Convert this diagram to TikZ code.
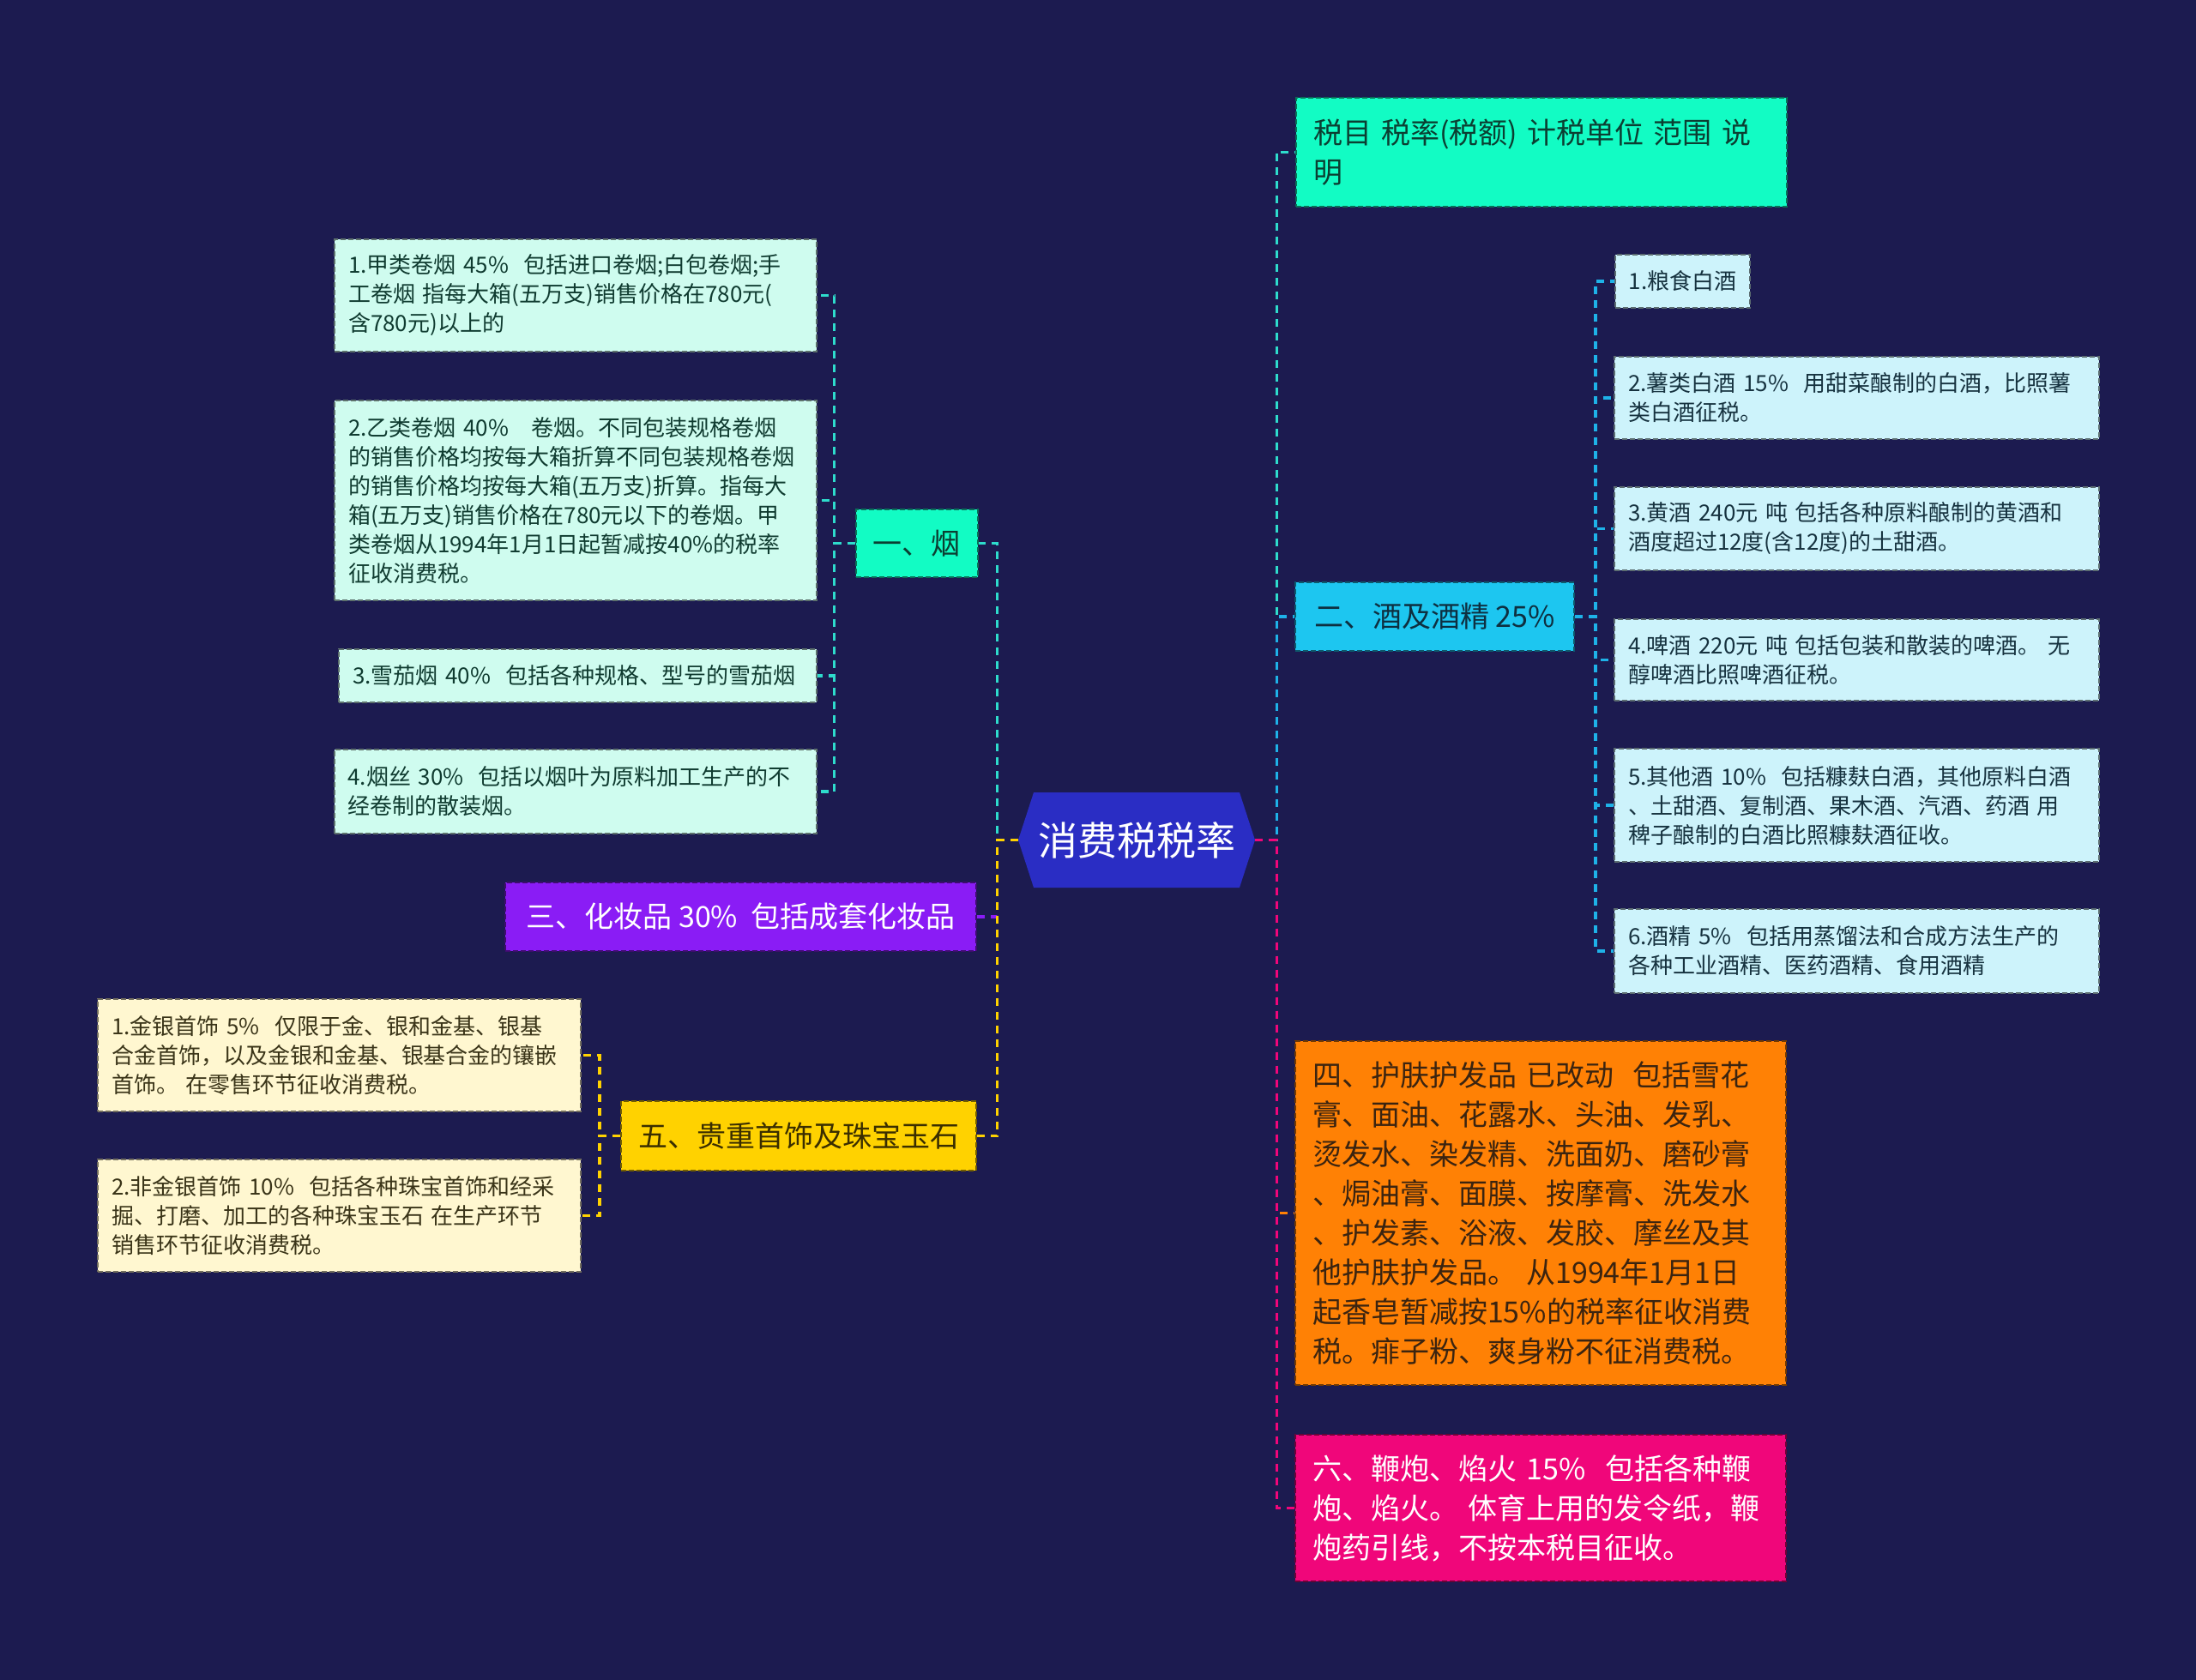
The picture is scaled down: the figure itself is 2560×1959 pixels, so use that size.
\documentclass[tikz,border=0pt]{standalone}
\usepackage{fontspec}
\newfontfamily\cjk{Noto Sans CJK SC}
\usetikzlibrary{shapes.symbols, positioning}
\definecolor{night}{HTML}{1C1B50}
\definecolor{hubblue}{HTML}{2A2DC4}
\definecolor{aqua}{HTML}{12FCC4}
\definecolor{aquaink}{HTML}{0B3F32}
\definecolor{aqualine}{HTML}{2EDCCC}
\definecolor{sky}{HTML}{1DC6F0}
\definecolor{skyink}{HTML}{0E2F40}
\definecolor{skyline}{HTML}{1EB2E8}
\definecolor{violet}{HTML}{8A1CF5}
\definecolor{gold}{HTML}{FFD200}
\definecolor{goldink}{HTML}{3A2E00}
\definecolor{tangerine}{HTML}{FF8105}
\definecolor{tangink}{HTML}{3B2410}
\definecolor{rose}{HTML}{F0067A}
\definecolor{mintleaf}{HTML}{CFFCEF}
\definecolor{mintink}{HTML}{0F3B30}
\definecolor{skyleaf}{HTML}{CDF3FB}
\definecolor{skyleafink}{HTML}{16323F}
\definecolor{creamleaf}{HTML}{FFF7D0}
\definecolor{creamink}{HTML}{3A3418}
\tikzset{
  hub/.style      = {signal, signal to=west and east, signal pointer angle=144,
                      fill=hubblue, text=white, font=\cjk\fontsize{23}{28}\selectfont,
                      minimum width=138pt, minimum height=55.5pt, inner sep=0pt},
  branch/.style   = {rectangle, draw=#1!45!black, fill=#1, dashed, dash pattern=on 3pt off 1.5pt,
                      line width=1pt, font=\cjk\fontsize{17}{23}\selectfont,
                      inner xsep=10pt, inner ysep=0pt, align=left},
  leaf/.style     = {rectangle, draw=#1!45!black, fill=#1, dashed, dash pattern=on 3pt off 1.5pt,
                      line width=1pt, font=\cjk\fontsize{13}{17}\selectfont,
                      inner xsep=8pt, inner ysep=0pt, align=left},
  leafmint/.style = {leaf=mintleaf, text=mintink},
  leafsky/.style  = {leaf=skyleaf, text=skyleafink},
  leafcream/.style= {leaf=creamleaf, text=creamink},
  conn/.style     = {line width=1.9pt, dash pattern=on 4.5pt off 3.5pt, draw=#1},
}

\begin{document}
\begin{tikzpicture}[x=0.5pt, y=-0.5pt]

\fill[night] (0,0) rectangle (2560,1959);

% ---- Root ----
\node[hub] (hub) at (1325,979.5) {消费税税率};

% ---- Right branches ----
\node[branch=aqua, text=aquaink, text width=266pt, minimum height=63.5pt] (head) at (1797,177.5)
  {税目 税率(税额) 计税单位 范围 说\\明};
\node[branch=sky, text=skyink, minimum width=162.5pt, minimum height=40pt, align=center] (jiu) at (1672.5,719)
  {二、酒及酒精 25\%};
\node[branch=tangerine, text=tangink, text width=266pt, minimum height=200.5pt] (hufu) at (1796,1414.5)
  {四、护肤护发品 已改动~~包括雪花\\
   膏、面油、花露水、头油、发乳、\\
   烫发水、染发精、洗面奶、磨砂膏\\
   、焗油膏、面膜、按摩膏、洗发水\\
   、护发素、浴液、发胶、摩丝及其\\
   他护肤护发品。 从1994年1月1日\\
   起香皂暂减按15\%的税率征收消费\\
   税。痱子粉、爽身粉不征消费税。};
\node[branch=rose, text=white, text width=266pt, minimum height=85.5pt] (bianpao) at (1796,1758.5)
  {六、鞭炮、焰火 15\%~~包括各种鞭\\
   炮、焰火。 体育上用的发令纸，鞭\\
   炮药引线，不按本税目征收。};

% ---- Left branches ----
\node[branch=aqua, text=aquaink, minimum width=69.5pt, minimum height=39.5pt, align=center] (yan) at (1068.5,633.5)
  {一、烟};
\node[branch=violet, text=white, minimum width=274.5pt, minimum height=40pt, align=center] (huazhuang) at (863.5,1069)
  {三、化妆品 30\%~~包括成套化妆品};
\node[branch=gold, text=goldink, minimum width=207pt, minimum height=40.5pt, align=center] (zhubao) at (931,1324.5)
  {五、贵重首饰及珠宝玉石};

% ---- Leaves of 一 ----
\node[leafmint, text width=265pt, minimum height=65.5pt] (y1) at (671,344.5)
  {1.甲类卷烟 45\%~~包括进口卷烟;白包卷烟;手\\
   工卷烟 指每大箱(五万支)销售价格在780元(\\
   含780元)以上的};
\node[leafmint, text width=265pt, minimum height=116.5pt] (y2) at (671,583.5)
  {2.乙类卷烟 40\%~~~卷烟。不同包装规格卷烟\\
   的销售价格均按每大箱折算不同包装规格卷烟\\
   的销售价格均按每大箱(五万支)折算。指每大\\
   箱(五万支)销售价格在780元以下的卷烟。甲\\
   类卷烟从1994年1月1日起暂减按40\%的税率\\
   征收消费税。};
\node[leafmint, text width=262.5pt, minimum height=31pt] (y3) at (673.5,788)
  {3.雪茄烟 40\%~~包括各种规格、型号的雪茄烟};
\node[leafmint, text width=265pt, minimum height=49pt] (y4) at (670.5,923)
  {4.烟丝 30\%~~包括以烟叶为原料加工生产的不\\
   经卷制的散装烟。};

% ---- Leaves of 五 ----
\node[leafcream, text width=265.5pt, minimum height=65.5pt] (z1) at (395.5,1230.5)
  {1.金银首饰 5\%~~仅限于金、银和金基、银基\\
   合金首饰，以及金银和金基、银基合金的镶嵌\\
   首饰。 在零售环节征收消费税。};
\node[leafcream, text width=265.5pt, minimum height=65.5pt] (z2) at (395.5,1417.5)
  {2.非金银首饰 10\%~~包括各种珠宝首饰和经采\\
   掘、打磨、加工的各种珠宝玉石 在生产环节\\
   销售环节征收消费税。};

% ---- Leaves of 二 ----
\node[leafsky, minimum width=78.5pt, minimum height=31pt] (j1) at (1961.5,328)
  {1.粮食白酒};
\node[leafsky, text width=266.5pt, minimum height=48pt] (j2) at (2164.5,464)
  {2.薯类白酒 15\%~~用甜菜酿制的白酒，比照薯\\
   类白酒征税。};
\node[leafsky, text width=266.5pt, minimum height=48.5pt] (j3) at (2164.5,616.5)
  {3.黄酒 240元 吨 包括各种原料酿制的黄酒和\\
   酒度超过12度(含12度)的土甜酒。};
\node[leafsky, text width=266.5pt, minimum height=47.5pt] (j4) at (2164.5,769.5)
  {4.啤酒 220元 吨 包括包装和散装的啤酒。 无\\
   醇啤酒比照啤酒征税。};
\node[leafsky, text width=266.5pt, minimum height=66pt] (j5) at (2164.5,939)
  {5.其他酒 10\%~~包括糠麸白酒，其他原料白酒\\
   、土甜酒、复制酒、果木酒、汽酒、药酒 用\\
   稗子酿制的白酒比照糠麸酒征收。};
\node[leafsky, text width=266.5pt, minimum height=49pt] (j6) at (2164.5,1109)
  {6.酒精 5\%~~包括用蒸馏法和合成方法生产的\\
   各种工业酒精、医药酒精、食用酒精};

% ===== Root connectors =====
\draw[conn=aqualine]  (hub.east) -- ++(25,0) |- (head.west);
\draw[conn=skyline]   (hub.east) -- ++(25,0) |- (jiu.west);
\draw[conn=tangerine] (hub.east) -- ++(25,0) |- (hufu.west);
\draw[conn=rose]      (hub.east) -- ++(25,0) |- (bianpao.west);
\draw[conn=aqualine]  (hub.west) -- ++(-24,0) |- (yan.east);
\draw[conn=violet]    (hub.west) -- ++(-24,0) |- (huazhuang.east);
\draw[conn=gold]      (hub.west) -- ++(-24,0) |- (zhubao.east);

% ===== Leaf connectors =====
\foreach \leaf in {y1,y2,y3,y4}
  \draw[conn=aqualine] (yan.west) -- ++(-24,0) |- (\leaf.east);
\foreach \leaf in {z1,z2}
  \draw[conn=gold] (zhubao.west) -- ++(-24,0) |- (\leaf.east);
\foreach \leaf in {j1,j2,j3,j4,j5,j6}
  \draw[conn=skyline] (jiu.east) -- ++(24,0) |- (\leaf.west);

\end{tikzpicture}
\end{document}
